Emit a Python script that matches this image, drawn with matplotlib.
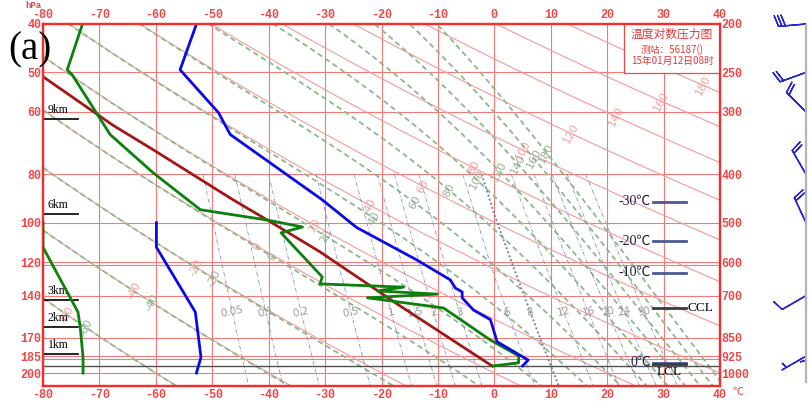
import numpy as np
import matplotlib
matplotlib.use('Agg')
import matplotlib.pyplot as plt
from matplotlib.patches import Rectangle

plt.rcParams['axes.unicode_minus'] = False

# ---------------- data ----------------
# main sounding, right-hand pressure axis (hPa)
temp_p = [200, 247, 301, 333, 450, 505, 512, 594, 651, 676, 688, 707, 748, 782, 866, 942, 968]
temp_t = [-52.8, -55.7, -48.9, -46.8, -30.5, -25.0, -24.3, -13.7, -7.8, -6.9, -5.7, -5.7, -3.7, -0.7, 0.5, 6.0, 5.0]
dew_p = [200, 247, 253, 333, 397, 471, 494, 510, 524, 642, 663, 673, 685, 695, 707, 741, 859, 924, 954, 968]
dew_t = [-73.0, -75.7, -74.8, -68.1, -60.5, -52.1, -40.2, -34.0, -37.8, -30.5, -30.9, -16.1, -20.7, -10.1, -22.5, -9.0, -0.7, 4.3, 4.3, -0.2]
parcel_p = [968, 734, 572, 498, 450, 357, 319, 255]
parcel_t = [-0.4, -16.7, -30.9, -39.7, -46.3, -60.5, -67.6, -80.0]
# upper levels, left-hand pressure axis (hPa)
up_temp_p = [100, 112, 151, 186, 200]
up_temp_t = [-59.9, -59.9, -53.0, -52.0, -52.8]
up_dew_p = [100, 112, 151, 162, 186, 200]
up_dew_t = [-80.0, -80.0, -73.8, -73.4, -72.9, -72.9]
surface_p = 968

right_levels = [200, 250, 300, 400, 500, 600, 700, 850, 925, 1000]
left_levels = [40, 50, 60, 80, 100, 120, 140, 170, 185, 200]
extra_lines_p = [608, 938]
temp_ticks = [-80, -70, -60, -50, -40, -30, -20, -10, 0, 10, 20, 30, 40]

dry_theta = list(range(-60, 281, 20))
moist_theta = list(range(-60, 181, 20))
mix_ratio = [0.05, 0.1, 0.2, 0.5, 1, 1.5, 2, 3, 6, 8, 12, 16, 20, 24, 30]
mix_labels = ['0.05', '0.1', '0.2', '0.5', '1', '1.5', '2', '3', '6', '8', '12', '16', '20', '24', '30']

height_km = ['1km', '2km', '3km', '6km', '9km']
height_p = [916, 808, 714, 480, 310]

mark_names = ['-30℃', '-20℃', '-10℃', 'CCL', '0℃', 'LCL']
mark_p = [454, 544, 630, 741, 954, 958]

wind_p = [200, 250, 300, 400, 500, 700, 850, 925]
wind_dir = [265, 250, 315, 330, 335, 240, 180, 240]
wind_spd = [30, 20, 20, 20, 20, 10, 5, 5]

title_lines = ['温度对数压力图', '测站：56187()', '15年01月12日08时']

# ---------------- layout ----------------
W, H = 810, 401
L, R, T, B = 43, 720, 24, 386
PX_PER_LN = 349 / np.log(5)
PBOT = 200 * np.exp((B - T) / PX_PER_LN)

def fx(x):
    return x / W

def fy(y):
    return 1 - y / H

RED = '#f04646'
GRID = '#f27a7a'
DRY = '#f29a9a'
MOIST = '#8db88d'
MIX = '#8796b0'
CJK = ['Noto Sans CJK SC', 'DejaVu Sans']
SERIF = ['Liberation Serif', 'Noto Sans CJK SC']
MONO = 'Liberation Mono'

fig = plt.figure(figsize=(8.1, 4.01), dpi=100)
ax = fig.add_axes([fx(L), fy(B), (R - L) / W, (B - T) / H])
ax.set_yscale('log')
ax.set_xlim(-80, 40)
ax.set_ylim(PBOT, 200)
ax.yaxis.set_minor_locator(matplotlib.ticker.NullLocator())

# upper-level twin axis (left scale = right scale / 5)
axu = ax.twinx()
axu.set_yscale('log')
axu.set_ylim(PBOT / 5, 40)
axu.yaxis.set_minor_locator(matplotlib.ticker.NullLocator())

# ---------------- background isopleths ----------------
pp = np.geomspace(195, PBOT * 1.01, 400)

def es_water(tc):
    return 6.112 * np.exp(17.67 * tc / (tc + 243.5))

def dry_T(theta_c, p):
    return (theta_c + 273.15) * (p / 1000.0) ** 0.2857 - 273.15

def moist_T(theta_c, p):
    target = theta_c + 273.15
    lo = np.full_like(p, 120.0)
    hi = np.full_like(p, 340.0)
    for _ in range(60):
        mid = 0.5 * (lo + hi)
        es = es_water(mid - 273.15)
        rs = 0.622 * es / np.maximum(p - es, 1e-3)
        th = mid * (1000.0 / p) ** 0.2857 * np.exp(2.5e6 * rs / (1004.0 * mid))
        big = th > target
        hi = np.where(big, mid, hi)
        lo = np.where(big, lo, mid)
    return 0.5 * (lo + hi) - 273.15

def mix_T(w, p):
    e = w * p / (622.0 + w)
    lg = np.log(e / 6.112)
    return np.where(lg < 0, 272.62 * lg / (22.46 - lg), 243.5 * lg / (17.67 - lg))

# grid
for t in temp_ticks[1:-1]:
    ax.axvline(t, color=GRID, lw=0.8, zorder=1)
for p in right_levels[1:] + extra_lines_p:
    ax.axhline(p, color=GRID, lw=0.8, zorder=1)

for th in dry_theta:
    ax.plot(dry_T(th, pp), pp, color=DRY, lw=0.8, zorder=2)
for th in moist_theta:
    ax.plot(moist_T(th, pp), pp, color=MOIST, lw=1.3, ls=(0, (3.0, 2.0)), zorder=2)

pm = np.geomspace(400, PBOT * 1.01, 200)
for w, lab in zip(mix_ratio, mix_labels):
    if w == 8:
        ax.plot(mix_T(w, pm), pm, color='#7485a4', lw=1.4, ls=(0, (1, 1.2)), zorder=2)
    else:
        ax.plot(mix_T(w, pm), pm, color=MIX, lw=0.6, ls=(0, (5, 2, 1, 2)), zorder=2)
    ax.text(float(mix_T(w, np.array([755.0]))[0]), 755, lab, color='#9a9a9a', fontsize=7.5,
            ha='center', va='center', rotation=12, zorder=3)

# labels of the adiabats along two slanted rows
def to_frac(t, p):
    return (t + 80) / 120.0, (np.log(PBOT) - np.log(p)) / (np.log(PBOT) - np.log(200))

def row_label(curve, values, a, b, color):
    (x0, y0), (x1, y1) = a, b
    k = (y1 - y0) / (x1 - x0)
    for v in values:
        tt = curve(v, pp)
        xf, yf = to_frac(tt, pp)
        d = yf - (y0 + k * (xf - x0))
        idx = np.where(np.diff(np.sign(d)) != 0)[0]
        if len(idx) == 0:
            continue
        i = idx[0]
        if not (0.01 < xf[i] < 0.99 and 0.01 < yf[i] < 0.99):
            continue
        if xf[i] > 0.86 and yf[i] > 0.85:
            continue
        ax.text(tt[i], pp[i], str(v), color=color, fontsize=8, rotation=62,
                ha='center', va='center', zorder=3)

row_label(dry_T, dry_theta, ((70 - L) / 677, (B - 315) / 362), ((705 - L) / 677, (B - 85) / 362), '#f0a0a0')
row_label(moist_T, moist_theta, ((90 - L) / 677, (B - 327) / 362), ((557 - L) / 677, (B - 150) / 362), '#98b098')

# ---------------- sounding curves ----------------
ax.axhline(surface_p, color='#505050', lw=1.0, zorder=4)
ax.plot(parcel_t, parcel_p, color='#a01818', lw=2, zorder=5)
ax.plot(dew_t, dew_p, color='#0c800c', lw=2, zorder=6)
ax.plot(temp_t, temp_p, color='#0a0ae6', lw=2, zorder=7)
axu.plot(up_dew_t, up_dew_p, color='#0c800c', lw=2, zorder=6)
axu.plot(up_temp_t, up_temp_p, color='#0a0ae6', lw=2, zorder=7)

# height markers on the left
for lab, p in zip(height_km, height_p):
    ax.plot([-80, -73.8], [p, p], color='black', lw=1.2, zorder=8, clip_on=False)
    ax.text(-79.2, p / 1.012, lab, fontsize=8.5, family=SERIF, va='bottom', ha='left', zorder=8)

# level markers on the right
for lab, p in zip(mark_names, mark_p):
    col = '#3c3c3c' if lab in ('CCL', 'LCL') else '#4c5896'
    ax.plot([28.2, 34.0], [p, p], color=col, lw=2, zorder=8)
    if lab == 'CCL':
        ax.text(34.3, p, lab, fontsize=9.5, family=SERIF, va='center', ha='left', zorder=8)
    elif lab == 'LCL':
        ax.text(31.0, p * 1.01, lab, fontsize=9.5, family=SERIF, va='top', ha='center', zorder=8)
    else:
        ax.text(27.8, p, lab, fontsize=10, family=SERIF, va='center', ha='right', color='#202040', zorder=8)

# title box
ax.add_patch(Rectangle((fx(624), fy(73)), fx(720) - fx(624), fy(24) - fy(73), transform=fig.transFigure,
                       facecolor='white', edgecolor=RED, lw=0.9, zorder=9))
fig.text(fx(672), fy(34), title_lines[0], family=CJK, fontsize=8.5, color='#e03a3a', ha='center', va='center', zorder=10)
fig.text(fx(672), fy(50), title_lines[1], family=CJK, fontsize=7, color='#e03a3a', ha='center', va='center', zorder=10)
fig.text(fx(672), fy(61), title_lines[2], family=CJK, fontsize=7, color='#e03a3a', ha='center', va='center', zorder=10)

# ---------------- axes styling ----------------
for a in (ax, axu):
    for s in a.spines.values():
        s.set_color('#f03030')
        s.set_linewidth(1.6)
    a.set_facecolor('none')
ax.set_facecolor('white')

ax.set_xticks(temp_ticks)
ax.set_xticklabels([str(t) for t in temp_ticks])
ax.tick_params(axis='x', top=True, labeltop=True, bottom=True, labelbottom=True, length=0, pad=2)
for lab in ax.get_xticklabels():
    lab.set_fontfamily(MONO)
    lab.set_fontweight('bold')
    lab.set_fontsize(8.5)
    lab.set_color(RED)

ax.yaxis.set_ticks_position('right')
ax.set_yticks(right_levels)
ax.set_yticklabels([str(p) for p in right_levels])
ax.tick_params(axis='y', length=0, pad=1, labelright=True, labelleft=False)
axu.yaxis.set_ticks_position('left')
axu.set_yticks(left_levels)
axu.set_yticklabels([str(p) for p in left_levels])
axu.tick_params(axis='y', length=0, pad=1, labelleft=True, labelright=False)
for lab in ax.get_yticklabels() + axu.get_yticklabels():
    lab.set_fontfamily(MONO)
    lab.set_fontweight('bold')
    lab.set_fontsize(8.5)
    lab.set_color(RED)

fig.text(fx(33), fy(6), 'hPa', family=MONO, fontweight='bold', fontsize=6.5, color=RED, ha='center', va='center')
fig.text(fx(738), fy(392), '℃', family=CJK, fontsize=8, color=RED, ha='center', va='center')
fig.text(fx(30), fy(50), '(a)', family='Liberation Serif', fontsize=28, ha='center', va='center')

# ---------------- wind barbs ----------------
axw = fig.add_axes([fx(740), fy(B), fx(810) - fx(740), (B - T) / H])
axw.set_yscale('log')
axw.set_ylim(PBOT, 200)
axw.set_xlim(0, 70)
axw.axis('off')
axw.plot([66, 66], [201, 1040], color='#b4b4b4', lw=1.6, clip_on=False)
rad = np.deg2rad(wind_dir)
u = -np.array(wind_spd) * np.sin(rad)
v = -np.array(wind_spd) * np.cos(rad)
axw.barbs(np.full(len(wind_p), 66.0), wind_p, u, v, length=6.3, color='#2828d0', lw=1.0, clip_on=False)

fig.savefig('out.png', dpi=100)
